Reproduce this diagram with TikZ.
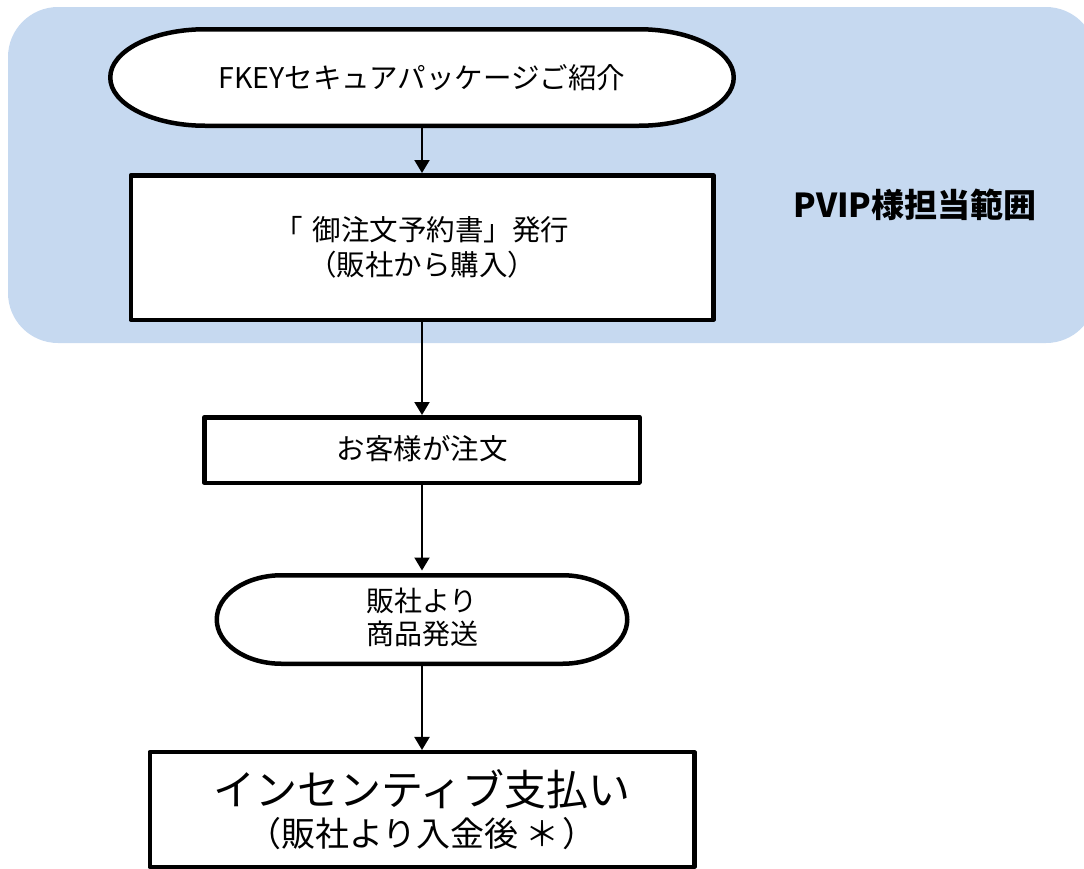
\documentclass[tikz,border=0pt]{standalone}
\usepackage{fontspec}
\newfontfamily\jp{Noto Sans CJK JP}
\usetikzlibrary{arrows.meta}
\definecolor{scopeblue}{RGB}{198,217,240}
\begin{document}
\begin{tikzpicture}[x=1pt,y=-1pt,
  shapeline/.style={draw=black, line width=4.5pt, fill=white, line join=round},
  boxnode/.style={draw=black, line width=4.5pt, fill=white, line join=round, inner sep=0pt, align=center},
  ghost/.style={inner sep=0pt, outer sep=0pt, align=center},
  txt/.style={font=\jp\fontsize{28.5}{35}\selectfont},
  flow/.style={-{Triangle[width=15pt,length=13pt]}, line width=2pt},
  ]
\useasboundingbox (0,0) rectangle (1084,868);
% scope background
\fill[scopeblue, rounded corners=50pt] (8,7) rectangle (1096,343);
\node[font=\jp\bfseries\fontsize{33}{40}\selectfont, inner sep=0pt] (scope) at (915,205) {PVIP様担当範囲};

% stadium 1 (outer 108-736, 27-128)
\draw[shapeline] (205.25,29.25) -- (638.75,29.25)
  arc[start angle=-90, end angle=90, x radius=95, y radius=48.25]
  -- (205.25,125.75)
  arc[start angle=90, end angle=270, x radius=95, y radius=48.25] -- cycle;
\node[ghost, txt, minimum width=628pt, minimum height=101pt] (n1) at (422,77.5) {FKEYセキュアパッケージご紹介};

% box 2
\node[boxnode, txt, minimum width=582.5pt, minimum height=144.5pt] (n2) at (422,247.5)
  {「\hspace{0.35em}御注文予約書」発行\\（販社から購入）};

% box 3
\node[boxnode, txt, minimum width=435.5pt, minimum height=65.5pt] (n3) at (422,450) {\raisebox{6pt}{お客様が注文}};

% stadium 4 (outer 214.5-629.5, 573-666)
\draw[shapeline] (281.75,575.25) -- (562.25,575.25)
  arc[start angle=-90, end angle=90, x radius=65, y radius=44.25]
  -- (281.75,663.75)
  arc[start angle=90, end angle=270, x radius=65, y radius=44.25] -- cycle;
\node[ghost, txt, font=\jp\fontsize{28}{33}\selectfont, minimum width=415pt, minimum height=93pt] (n4) at (422,617) {販社より\\商品発送};

% box 5
\node[boxnode, minimum width=544.5pt, minimum height=114.75pt] (n5) at (422,809.6)
  {{\jp\fontsize{42}{47}\selectfont インセンティブ支払い}\\[7pt]{\jp\fontsize{34}{40}\selectfont （販社より入金後\hspace{0.2em}＊\hspace{0.1em}）}};

% connectors
\draw[flow] (n1.south) -- (n2.north);
\draw[flow] (n2.south) -- (n3.north);
\draw[flow] (n3.south) -- (n4.north);
\draw[flow] (n4.south) -- (n5.north);
\end{tikzpicture}
\end{document}
